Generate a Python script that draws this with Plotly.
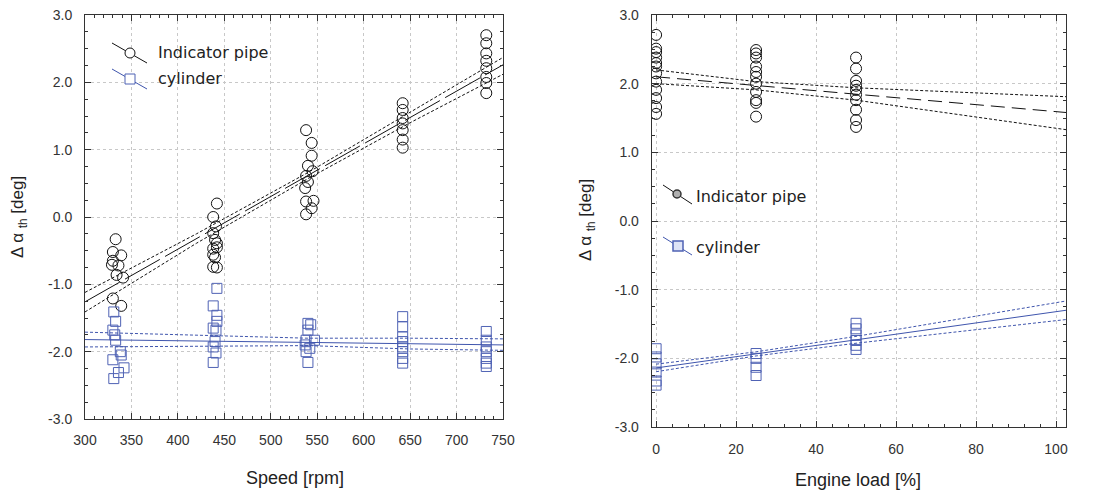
import plotly.graph_objects as go

# ---------------- Left panel: speed ----------------
speed_pipe_x = [333, 330, 339, 330, 329, 336, 334, 341, 330, 339,
                442, 438, 441, 438, 440, 442, 438, 442, 438, 440, 438, 442,
                538, 544, 544, 540, 545, 538, 540, 537, 546, 538, 544, 538,
                642, 642, 642, 642, 642, 642, 642,
                732, 732, 732, 732, 732, 732, 732, 732]
speed_pipe_y = [-0.33, -0.52, -0.57, -0.65, -0.71, -0.72, -0.86, -0.90, -1.21, -1.32,
                0.20, 0.00, -0.14, -0.24, -0.34, -0.39, -0.47, -0.45, -0.56, -0.60, -0.74, -0.75,
                1.29, 1.10, 0.91, 0.76, 0.68, 0.61, 0.52, 0.43, 0.24, 0.23, 0.13, 0.04,
                1.69, 1.59, 1.47, 1.39, 1.29, 1.15, 1.03,
                2.70, 2.58, 2.43, 2.32, 2.21, 2.08, 1.99, 1.84]

speed_cyl_x = [331, 333, 330, 332, 333, 338, 339, 330, 342, 336, 331,
               442, 438, 442, 442, 438, 441, 440, 438, 441, 438,
               540, 543, 540, 538, 547, 537, 542, 538, 540,
               642, 642, 642, 642, 642, 642, 642, 642,
               732, 732, 732, 732, 732, 732, 732]
speed_cyl_y = [-1.41, -1.55, -1.68, -1.75, -1.83, -2.00, -2.05, -2.12, -2.24, -2.31, -2.40,
               -1.06, -1.32, -1.46, -1.55, -1.65, -1.68, -1.85, -1.93, -2.02, -2.16,
               -1.58, -1.60, -1.68, -1.83, -1.83, -1.90, -1.95, -2.00, -2.16,
               -1.48, -1.63, -1.78, -1.85, -1.93, -2.00, -2.10, -2.17,
               -1.70, -1.83, -1.93, -2.00, -2.10, -2.17, -2.22]

speed_fit_x = [300, 420, 540, 650, 750]
pipe_speed_fit = [-1.26, -0.32, 0.62, 1.48, 2.26]
pipe_speed_upper = [-1.12, -0.25, 0.66, 1.55, 2.37]
pipe_speed_lower = [-1.41, -0.39, 0.57, 1.40, 2.12]
cyl_speed_fit = [-1.82, -1.84, -1.86, -1.88, -1.90]
cyl_speed_upper = [-1.71, -1.76, -1.80, -1.80, -1.81]
cyl_speed_lower = [-1.93, -1.92, -1.91, -1.96, -1.98]

# ---------------- Right panel: engine load ----------------
load_pipe_x = [0] * 12 + [25] * 11 + [50] * 10
load_pipe_y = [2.71, 2.51, 2.46, 2.38, 2.30, 2.25, 2.15, 2.03, 1.91, 1.79, 1.66, 1.56,
               2.49, 2.44, 2.38, 2.25, 2.17, 2.10, 2.00, 1.88, 1.76, 1.72, 1.52,
               2.38, 2.22, 2.04, 1.97, 1.91, 1.84, 1.76, 1.62, 1.47, 1.37]

load_cyl_x = [0] * 6 + [25] * 4 + [50] * 6
load_cyl_y = [-1.86, -1.98, -2.08, -2.20, -2.33, -2.39,
              -1.93, -2.00, -2.13, -2.25,
              -1.49, -1.57, -1.66, -1.74, -1.81, -1.87]

load_fit_x = [0, 25, 50, 75, 102.5]
pipe_load_fit = [2.10, 1.97, 1.85, 1.72, 1.58]
pipe_load_upper = [2.20, 2.03, 1.94, 1.88, 1.81]
pipe_load_lower = [2.00, 1.91, 1.76, 1.56, 1.33]
cyl_load_fit = [-2.14, -1.935, -1.73, -1.525, -1.30]
cyl_load_upper = [-2.085, -1.905, -1.68, -1.435, -1.165]
cyl_load_lower = [-2.195, -1.965, -1.78, -1.615, -1.435]

speed_ticks = [300, 350, 400, 450, 500, 550, 600, 650, 700, 750]
load_ticks = [0, 20, 40, 60, 80, 100]
y_ticks = [-3, -2, -1, 0, 1, 2, 3]
y_ticktext = ["-3.0", "-2.0", "-1.0", "0.0", "1.0", "2.0", "3.0"]

BLACK = "#111111"
BLUE = "#3f55ad"
BLUE_M = "#4f62b4"

fig = go.Figure()


def add_lines(x, fit, up, lo, color, main_dash, xa, ya):
    for yy in (up, lo):
        fig.add_trace(go.Scatter(x=x, y=yy, mode="lines", xaxis=xa, yaxis=ya,
                                 line=dict(color=color, width=1, dash="3px,2px"),
                                 hoverinfo="skip"))
    fig.add_trace(go.Scatter(x=x, y=fit, mode="lines", xaxis=xa, yaxis=ya,
                             line=dict(color=color, width=1, dash=main_dash),
                             hoverinfo="skip"))


# left panel
fig.add_trace(go.Scatter(x=speed_pipe_x, y=speed_pipe_y, mode="markers", xaxis="x", yaxis="y",
                         name="Indicator pipe",
                         marker=dict(symbol="circle-open", size=11, color=BLACK, line=dict(width=1))))
fig.add_trace(go.Scatter(x=speed_cyl_x, y=speed_cyl_y, mode="markers", xaxis="x", yaxis="y",
                         name="cylinder",
                         marker=dict(symbol="square-open", size=10, color=BLUE_M, line=dict(width=1))))
add_lines(speed_fit_x, pipe_speed_fit, pipe_speed_upper, pipe_speed_lower, BLACK, "40px,6px", "x", "y")
add_lines(speed_fit_x, cyl_speed_fit, cyl_speed_upper, cyl_speed_lower, BLUE, "solid", "x", "y")

# right panel
fig.add_trace(go.Scatter(x=load_pipe_x, y=load_pipe_y, mode="markers", xaxis="x2", yaxis="y2",
                         name="Indicator pipe",
                         marker=dict(symbol="circle-open", size=11, color=BLACK, line=dict(width=1))))
fig.add_trace(go.Scatter(x=load_cyl_x, y=load_cyl_y, mode="markers", xaxis="x2", yaxis="y2",
                         name="cylinder",
                         marker=dict(symbol="square-open", size=10, color=BLUE_M, line=dict(width=1))))
add_lines(load_fit_x, pipe_load_fit, pipe_load_upper, pipe_load_lower, BLACK, "14px,7px", "x2", "y2")
add_lines(load_fit_x, cyl_load_fit, cyl_load_upper, cyl_load_lower, BLUE, "solid", "x2", "y2")

W, H = 1100, 492
axis_common = dict(showline=True, linecolor="#333333", linewidth=1, mirror="ticks",
                   ticks="inside", ticklen=6, tickcolor="#333333", automargin=False,
                   showgrid=True, gridcolor="#c8c8c8", griddash="dot", gridwidth=1,
                   zeroline=False,
                   tickfont=dict(family="Liberation Sans, Arial, sans-serif", size=14, color="#333333"))

fig.update_layout(
    width=W, height=H, autosize=False,
    margin=dict(l=0, r=0, t=0, b=0, pad=0),
    paper_bgcolor="white", plot_bgcolor="white",
    showlegend=False,
    xaxis=dict(domain=[85 / W, 503 / W], range=[300, 750], anchor="y",
               tickvals=speed_ticks, ticklabelstandoff=8,
               minor=dict(dtick=10, ticks="inside", ticklen=3, tickcolor="#333333", showgrid=False),
               **axis_common),
    yaxis=dict(domain=[1 - 419 / H, 1 - 15 / H], range=[-3, 3], anchor="x",
               tickvals=y_ticks, ticktext=y_ticktext, ticklabelstandoff=9,
               minor=dict(dtick=0.25, ticks="inside", ticklen=3, tickcolor="#333333", showgrid=False),
               **axis_common),
    xaxis2=dict(domain=[651.7 / W, 1066 / W], range=[-1.1, 102.5], anchor="y2",
                tickvals=load_ticks, ticklabelstandoff=9,
                minor=dict(dtick=4, ticks="inside", ticklen=3, tickcolor="#333333", showgrid=False),
                **axis_common),
    yaxis2=dict(domain=[1 - 427 / H, 1 - 15 / H], range=[-3, 3], anchor="x2",
                tickvals=y_ticks, ticktext=y_ticktext, ticklabelstandoff=9,
                minor=dict(dtick=0.25, ticks="inside", ticklen=3, tickcolor="#333333", showgrid=False),
                **axis_common),
)


def px(x):
    return x / W


def py(y):
    return 1 - y / H


title_font = dict(family="Liberation Sans, Arial, sans-serif", size=18, color="#222222")
ytitle_font = dict(family="Liberation Sans, Arial, sans-serif", size=17, color="#222222")
legend_font = dict(family="DejaVu Sans, sans-serif", size=16, color="#222222")
ytitle = "\u0394 \u03b1 <sub>th</sub> [deg]"

annotations = [
    dict(x=px(295), y=py(478), text="Speed [rpm]", font=title_font),
    dict(x=px(858), y=py(480), text="Engine load [%]", font=title_font),
    dict(x=px(19), y=py(217), text=ytitle, textangle=-90, font=ytitle_font),
    dict(x=px(587), y=py(220), text=ytitle, textangle=-90, font=ytitle_font),
    dict(x=px(156), y=py(52), text="Indicator pipe", xanchor="left", font=legend_font),
    dict(x=px(156), y=py(78), text="cylinder", xanchor="left", font=legend_font),
    dict(x=px(694), y=py(196), text="Indicator pipe", xanchor="left", font=legend_font),
    dict(x=px(694), y=py(247), text="cylinder", xanchor="left", font=legend_font),
]
for a in annotations:
    a.update(xref="paper", yref="paper", showarrow=False)
    a.setdefault("xanchor", "center")
    a.setdefault("yanchor", "middle")
fig.update_layout(annotations=annotations)

shapes = [
    # left legend
    dict(type="line", x0=px(112), y0=py(43), x1=px(147), y1=py(63), line=dict(color=BLACK, width=1)),
    dict(type="circle", x0=px(125), y0=py(48), x1=px(135), y1=py(58),
         line=dict(color=BLACK, width=1), fillcolor="white"),
    dict(type="line", x0=px(112), y0=py(69), x1=px(147), y1=py(89), line=dict(color=BLUE, width=1)),
    dict(type="rect", x0=px(125), y0=py(74), x1=px(135), y1=py(84),
         line=dict(color=BLUE_M, width=1), fillcolor="white"),
    # right legend
    dict(type="line", x0=px(663), y0=py(185), x1=px(692), y1=py(204), line=dict(color=BLACK, width=1)),
    dict(type="circle", x0=px(673), y0=py(190), x1=px(681), y1=py(198),
         line=dict(color="#333333", width=1.5), fillcolor="#b0b0b0"),
    dict(type="line", x0=px(663), y0=py(237), x1=px(692), y1=py(255), line=dict(color=BLUE, width=1)),
    dict(type="rect", x0=px(673), y0=py(241), x1=px(683), y1=py(251),
         line=dict(color=BLUE_M, width=1.5), fillcolor="#dfe4f6"),
]
for s in shapes:
    s.update(xref="paper", yref="paper")
fig.update_layout(shapes=shapes)

fig.write_html(
    "out.html",
    config={"displayModeBar": False},
    post_script="document.body.style.margin='0px';"
                "document.documentElement.style.overflow='hidden';",
)
